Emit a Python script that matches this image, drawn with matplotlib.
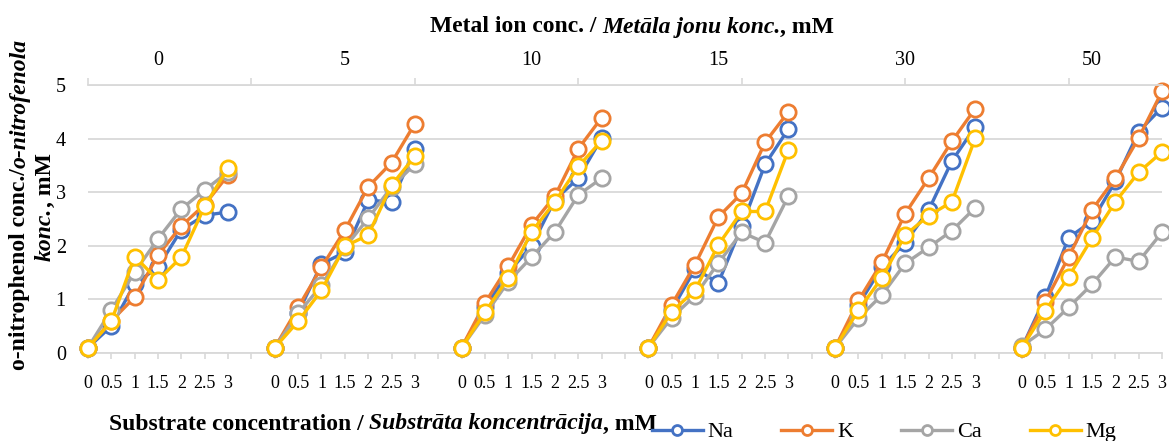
import matplotlib
matplotlib.use("Agg")
import matplotlib.pyplot as plt
from matplotlib.transforms import IdentityTransform

plt.rcParams['font.family'] = ['Liberation Serif', 'DejaVu Serif']

# data
metal_conc = ["0", "5", "10", "15", "30", "50"]
substrate = ["0", "0.5", "1", "1.5", "2", "2.5", "3"]

na = [
    [0.10, 0.50, 1.29, 1.60, 2.30, 2.57, 2.63],
    [0.10, 0.75, 1.66, 1.88, 2.85, 2.82, 3.80],
    [0.10, 0.85, 1.50, 2.00, 2.86, 3.26, 4.01],
    [0.10, 0.80, 1.57, 1.31, 2.37, 3.52, 4.18],
    [0.10, 0.90, 1.60, 2.06, 2.66, 3.58, 4.22],
    [0.10, 1.04, 2.15, 2.46, 3.20, 4.13, 4.58],
]
k = [
    [0.10, 0.60, 1.04, 1.83, 2.37, 2.77, 3.32],
    [0.10, 0.85, 1.60, 2.29, 3.10, 3.55, 4.28],
    [0.10, 0.93, 1.62, 2.39, 2.93, 3.81, 4.39],
    [0.10, 0.90, 1.65, 2.54, 2.98, 3.93, 4.50],
    [0.10, 0.98, 1.69, 2.60, 3.26, 3.95, 4.56],
    [0.10, 0.96, 1.79, 2.67, 3.26, 4.01, 4.88],
]
ca = [
    [0.10, 0.80, 1.51, 2.13, 2.69, 3.04, 3.38],
    [0.10, 0.74, 1.26, 1.97, 2.51, 3.10, 3.52],
    [0.10, 0.71, 1.33, 1.79, 2.26, 2.95, 3.26],
    [0.10, 0.66, 1.07, 1.68, 2.25, 2.06, 2.93],
    [0.10, 0.65, 1.08, 1.67, 1.97, 2.28, 2.71],
    [0.13, 0.44, 0.85, 1.28, 1.79, 1.71, 2.25],
]
mg = [
    [0.10, 0.59, 1.80, 1.36, 1.79, 2.74, 3.45],
    [0.10, 0.59, 1.17, 1.99, 2.20, 3.13, 3.67],
    [0.10, 0.76, 1.40, 2.26, 2.82, 3.48, 3.96],
    [0.10, 0.77, 1.17, 2.02, 2.64, 2.64, 3.79],
    [0.10, 0.80, 1.40, 2.20, 2.56, 2.82, 4.01],
    [0.10, 0.79, 1.42, 2.14, 2.82, 3.37, 3.75],
]

series = [("Na", na, "#4472C4"), ("K", k, "#ED7D31"),
          ("Ca", ca, "#A5A5A5"), ("Mg", mg, "#FFC000")]

W, H = 1169, 441
fig = plt.figure(figsize=(W / 100, H / 100), dpi=100)
ax = fig.add_axes([88 / W, (H - 353) / H, (1162 - 88) / W, (353 - 85) / H])

slot = len(substrate) + 1  # one empty category between groups
grid_c = "#D9D9D9"

handles = []
for name, vals, col in series:
    for g, row in enumerate(vals):
        xs = [g * slot + i for i in range(len(row))]
        ln, = ax.plot(xs, row, color=col, lw=2.4, marker="o", ms=11,
                      mfc="white", mec=col, mew=2.0, clip_on=False, zorder=3)
    handles.append(ln)

n_slots = slot * len(metal_conc) - 1
ax.set_xlim(0, n_slots - 1)
ax.set_ylim(0, 5)
ax.set_yticks(range(6))
ax.yaxis.grid(True, color=grid_c, lw=1.3)
ax.set_axisbelow(True)
for s in ["left", "right", "top"]:
    ax.spines[s].set_visible(False)
ax.spines["bottom"].set_color(grid_c)
ax.spines["bottom"].set_linewidth(1.3)
ax.tick_params(axis="y", length=0, pad=16, labelsize=14.5)

xt = list(range(n_slots))
xl = [substrate[i % slot] if i % slot < len(substrate) else "" for i in xt]
ax.set_xticks(xt)
ax.set_xticklabels(xl)
ax.tick_params(axis="x", length=4, color=grid_c, width=1.2, pad=12, labelsize=13)

top = ax.twiny()
top.xaxis.remove_overlapping_locs = False
top.set_xlim(ax.get_xlim())
top.set_xticks(range(0, n_slots, len(substrate)))
top.set_xticklabels([])
top.set_xticks([g * slot + 3 for g in range(len(metal_conc))], minor=True)
top.set_xticklabels(metal_conc, minor=True)
top.tick_params(axis="x", which="major", length=5, color=grid_c, width=1.2)
top.tick_params(axis="x", which="minor", length=0, pad=11, labelsize=14.5)
for s in ["left", "right", "bottom"]:
    top.spines[s].set_visible(False)
top.spines["top"].set_color(grid_c)
top.spines["top"].set_linewidth(1.3)


def rich_text(pieces, x, y, rotation=0, size=17):
    # pieces: (text, italic, gap before in px); laid out one after another
    r = fig.canvas.get_renderer()
    objs = []
    total = 0
    for txt, it, gap in pieces:
        t = fig.text(0, 0, txt, transform=IdentityTransform(), fontsize=size,
                     fontweight="bold", fontstyle="italic" if it else "normal",
                     rotation=rotation)
        bb = t.get_window_extent(r)
        length = bb.height if rotation else bb.width
        objs.append((t, gap, length))
        total += gap + length
    pos = -total / 2
    for t, gap, length in objs:
        pos += gap
        if rotation:
            t.set_position((x, y + pos))
            t.set_ha("center")
            t.set_va("bottom")
        else:
            t.set_position((x + pos, y))
            t.set_ha("left")
            t.set_va("center")
        pos += length


sp = 5.5
rich_text([("Metal ion conc. /", False, 0), ("Metāla jonu konc.", True, sp),
           (", mM", False, 0)], 632, H - 27)
rich_text([("Substrate concentration /", False, 0),
           ("Substrāta koncentrācija", True, sp), (", mM", False, 0)], 383, H - 424)
rich_text([("o-nitrophenol conc./", False, 0), ("o-nitrofenola", True, 0)],
          20, H - 204, rotation=90)
rich_text([("konc.", True, 0), (", mM", False, 0)], 45, H - 207, rotation=90)

fig.legend(handles, [s[0] for s in series], loc="center",
           bbox_to_anchor=(884 / W, (H - 432) / H), ncol=4, frameon=False,
           fontsize=16, handlelength=2.3, handletextpad=0.22, columnspacing=2.15,
           markerscale=0.65)

fig.savefig("out.png", dpi=100)
